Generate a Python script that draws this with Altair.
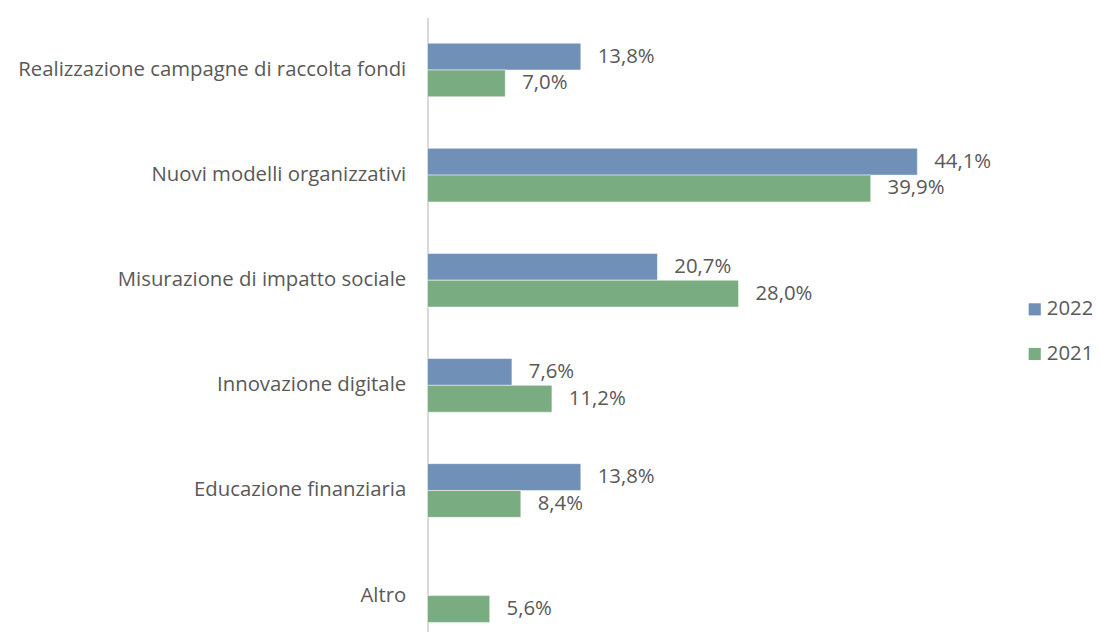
import altair as alt
import pandas as pd

categories = [
    "Realizzazione campagne di raccolta fondi",
    "Nuovi modelli organizzativi",
    "Misurazione di impatto sociale",
    "Innovazione digitale",
    "Educazione finanziaria",
    "Altro",
]
values_2022 = [13.8, 44.1, 20.7, 7.6, 13.8, None]
values_2021 = [7.0, 39.9, 28.0, 11.2, 8.4, 5.6]
series = ["2022", "2021"]
colors = ["#7190B8", "#79AC80"]

rows = []
for c, v22, v21 in zip(categories, values_2022, values_2021):
    for s, v in zip(series, [v22, v21]):
        if v is None:
            continue
        rows.append({"cat": c, "serie": s, "val": v,
                     "label": f"{v:.1f}".replace(".", ",") + "%"})
df = pd.DataFrame(rows)

FONT = "Open Sans"
FS = 20.5
TXT = "#595959"

y = alt.Y("cat:N", sort=categories, title=None,
          scale=alt.Scale(paddingInner=0.49, paddingOuter=0.165, align=0.74),
          axis=alt.Axis(ticks=False, domainColor="#D9D9D9", domainWidth=2,
                        labelFontSize=FS, labelColor=TXT, labelFont=FONT,
                        labelPadding=22, labelLimit=500))
yo = alt.YOffset("serie:N", sort=series)

base = alt.Chart(df).encode(y=y, yOffset=yo)

bars = base.mark_bar(stroke="white", strokeWidth=0.5).encode(
    x=alt.X("val:Q", scale=alt.Scale(domain=[0, 50]), axis=None),
    color=alt.Color("serie:N", sort=series,
                    scale=alt.Scale(domain=series, range=colors),
                    legend=alt.Legend(title=None, orient="none", legendX=602, legendY=284,
                                      symbolType="square", symbolSize=150,
                                      symbolStrokeWidth=0, labelFontSize=FS,
                                      labelColor=TXT, labelFont=FONT, rowPadding=24,
                                      labelOffset=2)),
)
labels = base.mark_text(align="left", baseline="middle", dx=17, fontSize=FS,
                        font=FONT, color=TXT).encode(
    x=alt.X("val:Q", axis=None), text="label:N")

chart = (bars + labels).properties(
    width=560, height=619,
    background="white",
    autosize=alt.AutoSizeParams(type="none"),
    padding={"left": 423, "top": 7, "right": 110, "bottom": 0},
).configure_view(stroke=None)

chart.save("out.html", embed_options={"renderer": "svg", "actions": False})
